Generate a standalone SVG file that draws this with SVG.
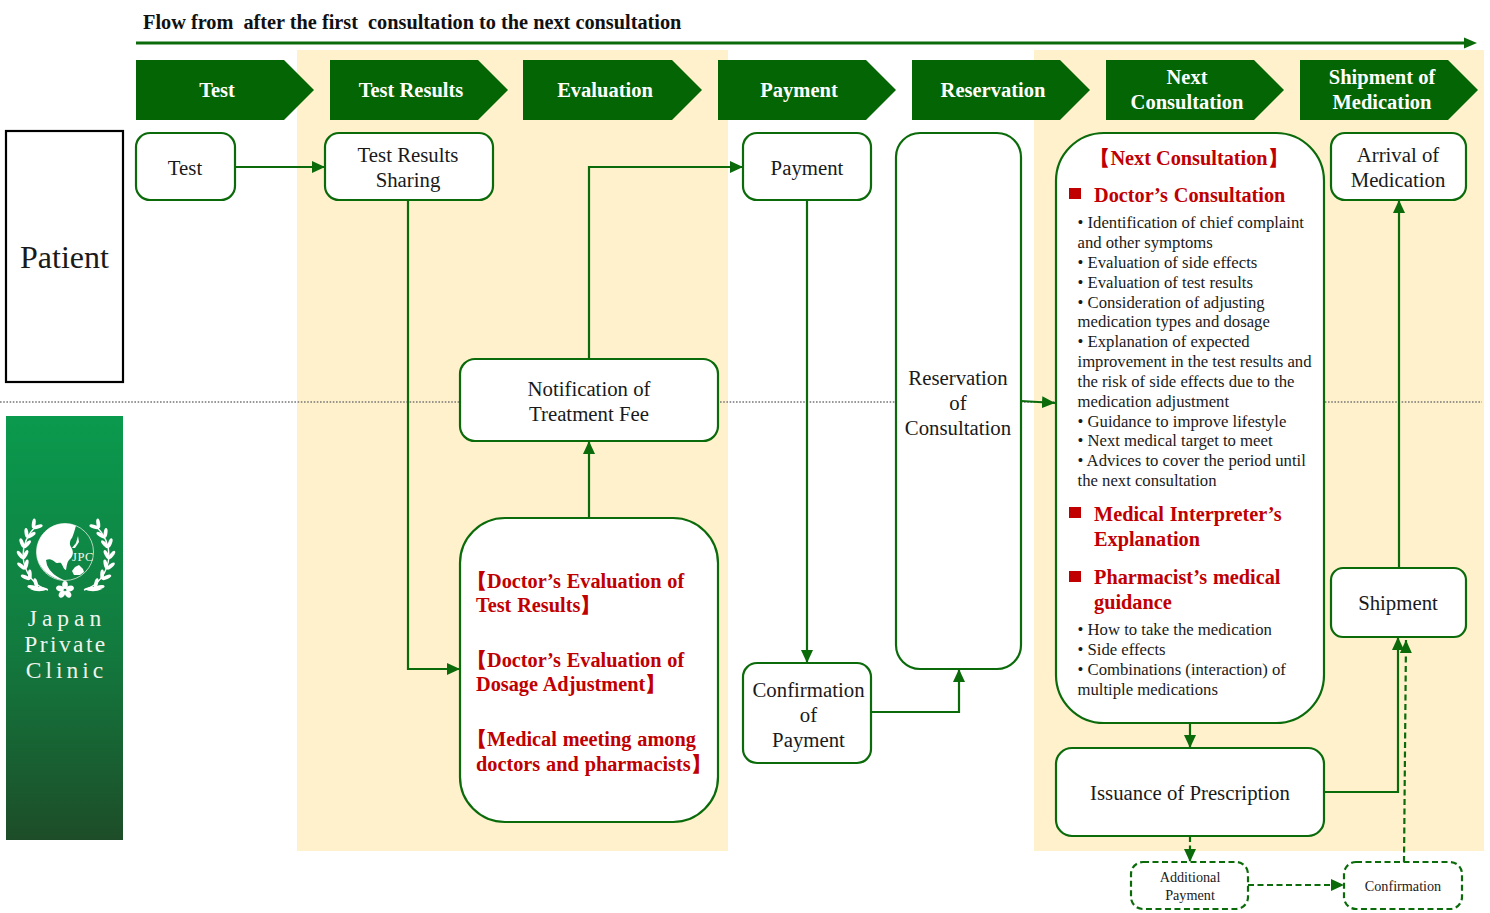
<svg xmlns="http://www.w3.org/2000/svg" width="1490" height="913" viewBox="0 0 1490 913">
<style>
text{font-family:"Liberation Serif","Times New Roman",serif;fill:#1a1a1a}
.band{fill:#fef1cb}
.chev{fill:#036503}
.ct{fill:#fff;font-weight:bold;font-size:20.500px;text-anchor:middle}
.box{fill:#fff;stroke:#0b6b0b;stroke-width:2.2}
.dash{stroke-dasharray:6 3.500}
.n{font-size:20.800px;text-anchor:middle}
.r{fill:#c00000;font-weight:bold;font-size:20.300px;word-spacing:.8px}
.l{font-size:16.700px}
.s{font-size:14.200px;text-anchor:middle}
.c{fill:none;stroke:#0b6b0b;stroke-width:2.2}
.lg{fill:#eef4ec;font-size:23.500px;text-anchor:middle}
</style>
<defs>
<marker id="a" markerUnits="userSpaceOnUse" markerWidth="14" markerHeight="12" refX="13" refY="6" orient="auto"><path d="M0 0L13 6L0 12Z" fill="#0b6b0b"/></marker>
<linearGradient id="g" x1="0" y1="0" x2="0" y2="1"><stop offset="0" stop-color="#0a9a4e"/><stop offset="0.55" stop-color="#127a3e"/><stop offset="1" stop-color="#1d4d28"/></linearGradient>
<g id="leaves"><ellipse cx="5" cy="0" rx="5" ry="1.900" transform="rotate(-32)" fill="#fff"/><ellipse cx="5" cy="0" rx="5" ry="1.900" transform="rotate(32)" fill="#fff"/></g>
<g id="laurel">
<path d="M48 590C36 587 24 574 23 556C23 544 28 534 36 526" fill="none" stroke="#fff" stroke-width="1.400"/>
<path d="M48 589C41 585 35 587 30 589C36 592 42 592 48 589Z" fill="#fff"/>
<use href="#leaves" transform="translate(66 556) rotate(132) translate(43 0) rotate(90)"/>
<use href="#leaves" transform="translate(66 556) rotate(147) translate(43 0) rotate(90)"/>
<use href="#leaves" transform="translate(66 556) rotate(162) translate(43 0) rotate(90)"/>
<use href="#leaves" transform="translate(66 556) rotate(176) translate(43 0) rotate(90)"/>
<use href="#leaves" transform="translate(66 556) rotate(191) translate(43 0) rotate(90)"/>
<use href="#leaves" transform="translate(66 556) rotate(205) translate(43 0) rotate(90)"/>
<use href="#leaves" transform="translate(66 556) rotate(220) translate(43 0) rotate(90)"/>
</g>
</defs>

<rect class="band" x="297" y="50" width="431" height="801"/>
<rect class="band" x="1034" y="50" width="450" height="801"/>
<line x1="0" y1="402" x2="1482" y2="402" stroke="#777" stroke-width="1.400" stroke-dasharray="1.600 1.600"/>

<text x="143" y="29" font-weight="bold" font-size="20.300px" style="fill:#111;white-space:pre">Flow from  after the first  consultation to the next consultation</text>
<line id="flow-arrow" class="c" x1="136" y1="43" x2="1466" y2="43" style="stroke-width:3"/>
<path d="M1477 43L1464 37.500V48.500Z" fill="#0b6b0b"/>

<g id="step-test"><path class="chev" d="M136 60H284L314 90L284 120H136Z"/><text class="ct" x="217" y="97">Test</text></g>
<g id="step-results"><path class="chev" d="M330 60H478L508 90L478 120H330Z"/><text class="ct" x="411" y="97">Test Results</text></g>
<g id="step-evaluation"><path class="chev" d="M523 60H672L702 90L672 120H523Z"/><text class="ct" x="605" y="97">Evaluation</text></g>
<g id="step-payment"><path class="chev" d="M718 60H866L896 90L866 120H718Z"/><text class="ct" x="799" y="97">Payment</text></g>
<g id="step-reservation"><path class="chev" d="M912 60H1060L1090 90L1060 120H912Z"/><text class="ct" x="993" y="97">Reservation</text></g>
<g id="step-next"><path class="chev" d="M1106 60H1254L1284 90L1254 120H1106Z"/><text class="ct" x="1187" y="84">Next</text><text class="ct" x="1187" y="109">Consultation</text></g>
<g id="step-shipment"><path class="chev" d="M1300 60H1448L1478 90L1448 120H1300Z"/><text class="ct" x="1382" y="84">Shipment of</text><text class="ct" x="1382" y="109">Medication</text></g>

<g id="connectors">
<path class="c" marker-end="url(#a)" d="M235 167H325"/>
<path class="c" marker-end="url(#a)" d="M408 200V669H460"/>
<path class="c" marker-end="url(#a)" d="M589 518V441"/>
<path class="c" marker-end="url(#a)" d="M589 359V167H743"/>
<path class="c" marker-end="url(#a)" d="M807 200V663"/>
<path class="c" marker-end="url(#a)" d="M871 712H959V669"/>
<path class="c" marker-end="url(#a)" d="M1021 401L1055 403"/>
<path class="c" marker-end="url(#a)" d="M1190 723V748"/>
<path class="c" marker-end="url(#a)" d="M1324 792H1398V637"/>
<path class="c" marker-end="url(#a)" d="M1399 568V200"/>
<path class="c dash" marker-end="url(#a)" d="M1190 836V862"/>
<path class="c dash" marker-end="url(#a)" d="M1248 885H1344"/>
<path class="c dash" marker-end="url(#a)" d="M1404 862L1406 640"/>
</g>

<g id="patient"><rect x="6" y="131" width="117" height="251" fill="#fff" stroke="#000" stroke-width="2.200"/><text x="64.500" y="268" font-size="32px" text-anchor="middle">Patient</text></g>

<g id="logo">
<rect x="6" y="416" width="117" height="424" fill="url(#g)"/>
<use href="#laurel"/>
<use href="#laurel" transform="translate(132 0) scale(-1 1)"/>
<circle cx="65" cy="552" r="28.500" fill="none" stroke="#dfeadf" stroke-width="0.800"/>
<path d="M76 525.700A28.500 28.500 0 0 0 37 557C39 568 50 579 66 581C56 577 50 572 47 565L46 560C50 558 53 560 55 562C57 564 60 562 61 563C63 566 64 570 66 570C67 565 67 561 71 558C74 554 73 550 71 547C69 544 70 540 72 538C74 533 75 529 76 525.700Z" fill="#fff"/>
<path d="M78 536L76 543L72 548L75 548L79 542Z" fill="#fff"/>
<path d="M72 571L75 567L79 565L83 569L84 572L80 575L74 575Z" fill="#fff"/>
<text x="83" y="561" font-size="12.500px" text-anchor="middle" style="fill:#f2f7f2;letter-spacing:.6px">JPC</text>
<g fill="#fff"><ellipse cx="65" cy="585" rx="2.800" ry="4"/><ellipse cx="70" cy="588.500" rx="2.800" ry="4" transform="rotate(72 70 588.500)"/><ellipse cx="68" cy="594" rx="2.800" ry="4" transform="rotate(144 68 594)"/><ellipse cx="62" cy="594" rx="2.800" ry="4" transform="rotate(216 62 594)"/><ellipse cx="60" cy="588.500" rx="2.800" ry="4" transform="rotate(288 60 588.500)"/></g>
<text class="lg" x="67" y="626" letter-spacing="5">Japan</text>
<text class="lg" x="66" y="652" letter-spacing="2.400">Private</text>
<text class="lg" x="66.500" y="678" letter-spacing="4">Clinic</text>
</g>

<g id="test"><rect class="box" x="136" y="133" width="99" height="67" rx="14"/><text class="n" x="185" y="175">Test</text></g>
<g id="results-sharing"><rect class="box" x="325" y="133" width="168" height="67" rx="14"/><text class="n" x="408" y="162">Test Results</text><text class="n" x="408" y="187">Sharing</text></g>
<g id="payment"><rect class="box" x="743" y="133" width="128" height="67" rx="14"/><text class="n" x="807" y="175">Payment</text></g>
<g id="reservation"><rect class="box" x="896" y="133" width="125" height="536" rx="24"/><text class="n" x="958" y="385">Reservation</text><text class="n" x="958" y="410">of</text><text class="n" x="958" y="435">Consultation</text></g>
<g id="notification"><rect class="box" x="460" y="359" width="258" height="82" rx="15"/><text class="n" x="589" y="396">Notification of</text><text class="n" x="589" y="421">Treatment Fee</text></g>
<g id="evaluation"><rect class="box" x="460" y="518" width="258" height="304" rx="45"/>
<text class="r" x="467" y="588">【Doctor’s Evaluation of</text><text class="r" x="476" y="612">Test Results】</text>
<text class="r" x="467" y="667">【Doctor’s Evaluation of</text><text class="r" x="476" y="691">Dosage Adjustment】</text>
<text class="r" x="467" y="746">【Medical meeting among</text><text class="r" x="476" y="771">doctors and pharmacists】</text></g>
<g id="confirm-payment"><rect class="box" x="743" y="663" width="128" height="100" rx="14"/><text class="n" x="808.500" y="697">Confirmation</text><text class="n" x="808.500" y="722">of</text><text class="n" x="808.500" y="747">Payment</text></g>

<g id="next-consultation"><rect class="box" x="1056" y="133" width="268" height="590" rx="48"/>
<text class="r" x="1189" y="165" text-anchor="middle" style="word-spacing:0">【Next Consultation】</text>
<rect x="1069" y="188" width="12" height="11" fill="#c00000"/><text class="r" x="1094" y="202">Doctor’s Consultation</text>
<text class="l" x="1077.500" y="228">• Identification of chief complaint</text>
<text class="l" x="1077.500" y="248">and other symptoms</text>
<text class="l" x="1077.500" y="268">• Evaluation of side effects</text>
<text class="l" x="1077.500" y="288">• Evaluation of test results</text>
<text class="l" x="1077.500" y="308">• Consideration of adjusting</text>
<text class="l" x="1077.500" y="327">medication types and dosage</text>
<text class="l" x="1077.500" y="347">• Explanation of expected</text>
<text class="l" x="1077.500" y="367">improvement in the test results and</text>
<text class="l" x="1077.500" y="387">the risk of side effects due to the</text>
<text class="l" x="1077.500" y="407">medication adjustment</text>
<text class="l" x="1077.500" y="427">• Guidance to improve lifestyle</text>
<text class="l" x="1077.500" y="446">• Next medical target to meet</text>
<text class="l" x="1077.500" y="466">• Advices to cover the period until</text>
<text class="l" x="1077.500" y="486">the next consultation</text>
<rect x="1069" y="507" width="12" height="11" fill="#c00000"/><text class="r" x="1094" y="521">Medical Interpreter’s</text><text class="r" x="1094" y="546">Explanation</text>
<rect x="1069" y="571" width="12" height="11" fill="#c00000"/><text class="r" x="1094" y="584">Pharmacist’s medical</text><text class="r" x="1094" y="609">guidance</text>
<text class="l" x="1077.500" y="635">• How to take the medication</text>
<text class="l" x="1077.500" y="655">• Side effects</text>
<text class="l" x="1077.500" y="675">• Combinations (interaction) of</text>
<text class="l" x="1077.500" y="695">multiple medications</text>
</g>
<g id="arrival"><rect class="box" x="1331" y="133" width="135" height="67" rx="14"/><text class="n" x="1398" y="162">Arrival of</text><text class="n" x="1398" y="187">Medication</text></g>
<g id="shipment"><rect class="box" x="1331" y="568" width="135" height="69" rx="12"/><text class="n" x="1398" y="610">Shipment</text></g>
<g id="issuance"><rect class="box" x="1056" y="748" width="268" height="88" rx="16"/><text class="n" x="1190" y="800">Issuance of Prescription</text></g>
<g id="additional"><rect class="box dash" x="1131" y="862" width="117" height="47" rx="12"/><text class="s" x="1190" y="882">Additional</text><text class="s" x="1190" y="900">Payment</text></g>
<g id="confirmation"><rect class="box dash" x="1344" y="862" width="118" height="47" rx="12"/><text class="s" x="1403" y="891">Confirmation</text></g>
</svg>
